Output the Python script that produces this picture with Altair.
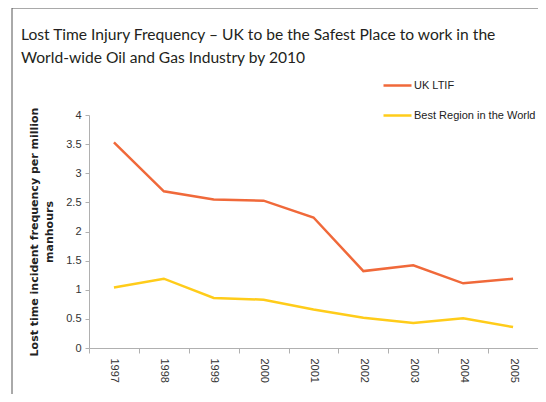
import altair as alt
import pandas as pd

years = ["1997", "1998", "1999", "2000", "2001", "2002", "2003", "2004", "2005"]
uk_ltif = [3.53, 2.69, 2.55, 2.53, 2.24, 1.32, 1.42, 1.11, 1.19]
best_region = [1.04, 1.19, 0.86, 0.83, 0.66, 0.52, 0.43, 0.51, 0.36]
series_names = ["UK LTIF", "Best Region in the World"]
series_colors = ["#F0693A", "#FFCC1A"]

rows = []
for y, a, b in zip(years, uk_ltif, best_region):
    rows.append({"year": y, "series": series_names[0], "value": a})
    rows.append({"year": y, "series": series_names[1], "value": b})
df = pd.DataFrame(rows)

W, H = 449, 233

lines = alt.Chart(df).mark_line(strokeWidth=2.5).encode(
    x=alt.X("year:O", bandPosition=0.5,
            scale=alt.Scale(type="band", paddingInner=0, paddingOuter=0),
            axis=alt.Axis(title=None, labelAngle=90, tickBand="extent",
                          labelAlign="left", labelBaseline="middle",
                          labelPadding=5, tickSize=5)),
    y=alt.Y("value:Q", scale=alt.Scale(domain=[0, 4]),
            axis=alt.Axis(values=[0, 0.5, 1, 1.5, 2, 2.5, 3, 3.5, 4], format="~g",
                          title=["Lost time incident frequency per million", "manhours"],
                          titleFont="DejaVu Sans",
                          titleFontWeight="bold", titleFontSize=11, titlePadding=11,
                          titleLineHeight=15,
                          grid=False, tickSize=4, labelPadding=4)),
    color=alt.Color("series:N",
                    scale=alt.Scale(domain=series_names, range=series_colors),
                    legend=alt.Legend(title=None, orient="none", legendX=293, legendY=-45,
                                      symbolType="stroke", symbolSize=784,
                                      symbolStrokeWidth=2.5, labelFontSize=11,
                                      labelColor="#222", rowPadding=9, padding=0,
                                      labelOffset=1, labelLimit=200)),
)

frame = alt.Chart(pd.DataFrame({"k": [0]})).mark_rule(color="#555", strokeWidth=1).encode(
    x=alt.value(-77), x2=alt.value(460), y=alt.value(-107)
)
frame2 = alt.Chart(pd.DataFrame({"k": [0]})).mark_rule(color="#555", strokeWidth=1).encode(
    x=alt.value(-77), y=alt.value(-107), y2=alt.value(290)
)

chart = alt.layer(frame, frame2, lines).properties(
    width=W, height=H,
    autosize=alt.AutoSizeParams(type="none"),
    padding={"left": 81, "top": 107, "right": 0, "bottom": 46},
    title=alt.TitleParams(
        text=["Lost Time Injury Frequency \u2013 UK to be the Safest Place to work in the",
              "World-wide Oil and Gas Industry by 2010"],
        anchor="start", frame="group", font="Lato", fontSize=15.6, fontWeight="normal",
        color="#231F20", lineHeight=23, dx=-68, dy=59, offset=0),
).configure_axis(
    labelFont="Liberation Sans", titleFont="Liberation Sans", labelFontSize=11,
    labelColor="#333", titleColor="#222", domainColor="#B0B0B0", tickColor="#B0B0B0",
).configure_legend(labelFont="Liberation Sans").configure_view(stroke=None)

chart.save("out.html", embed_options={"renderer": "svg", "actions": False})
